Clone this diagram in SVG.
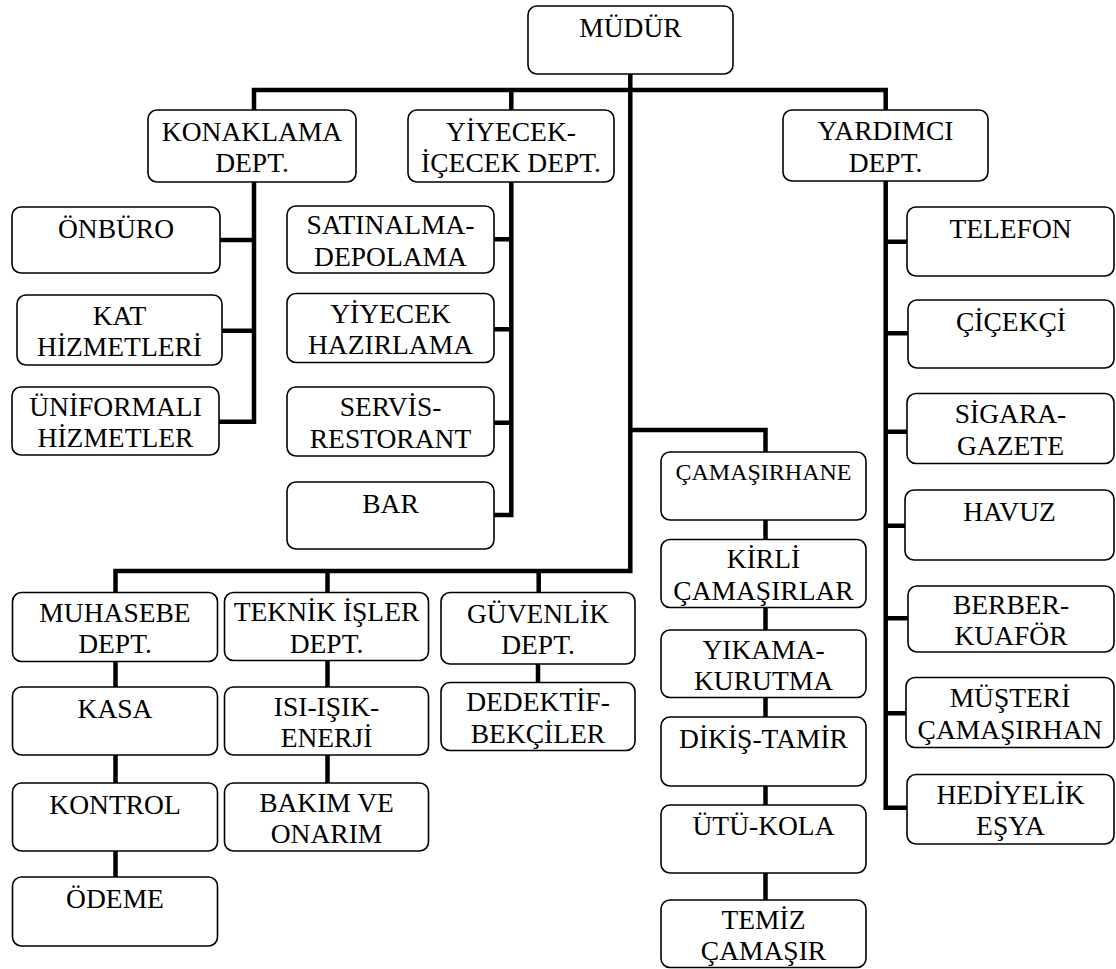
<svg xmlns="http://www.w3.org/2000/svg" width="1116" height="969" viewBox="0 0 1116 969">
<style>
.b{fill:#fff;stroke:#000;stroke-width:1.6}
.t{font-family:'Liberation Serif',serif;font-size:27.5px;fill:#000;text-anchor:middle}
.s{font-size:24px}
.c{fill:none;stroke:#000;stroke-width:4.5;stroke-linejoin:miter;stroke-linecap:butt}
</style>
<rect width="1116" height="969" fill="#fff"/>
<g id="connectors" class="c">
<path d="M254 110V90H885.7V110"/>
<path d="M511.3 90V110"/>
<path d="M630.3 74V571H115.5V592.5"/>
<path d="M254 182V421.7H219M220 240H254M222 330.7H254"/>
<path d="M511.3 182V515H494M494 239.3H511.3M494 329.3H511.3M494 422.7H511.3"/>
<path d="M630.3 430H765.5V452"/>
<path d="M885.7 181V807.7H907M885.7 241.7H907M885.7 333.3H908M885.7 431.7H907M885.7 525.7H905M885.7 618.3H908M885.7 713.3H906"/>
<path d="M327.5 571V592.5M538.7 571V592.5"/>
<path d="M115.5 661.5V687M115.5 755V783M115.5 851V877"/>
<path d="M327.5 660.5V687M327.5 755V783"/>
<path d="M538 664V682.5"/>
<path d="M765.5 520V539.5M765.5 607.5V630M765.5 697.5V717M765.5 786V805M765.5 873V900"/>
</g>
<g font-family="Liberation Serif" font-size="27.5" text-anchor="middle">
<g id="mudur"><rect class="b" x="528" y="6" width="205" height="68" rx="9"/><text class="t" x="630.5" y="37">MÜDÜR</text></g>
<g id="konaklama"><rect class="b" x="148" y="110" width="208" height="72" rx="9"/><text class="t" x="252" y="140.5">KONAKLAMA<tspan x="252" y="172">DEPT.</tspan></text></g>
<g id="yiyecek-icecek"><rect class="b" x="408" y="110" width="206" height="72" rx="9"/><text class="t" x="511" y="140.5">YİYECEK-<tspan x="511" y="172">İÇECEK DEPT.</tspan></text></g>
<g id="yardimci"><rect class="b" x="783" y="110" width="205" height="71" rx="9"/><text class="t" x="885.5" y="140">YARDIMCI<tspan x="885.5" y="171.5">DEPT.</tspan></text></g>
<g id="onburo"><rect class="b" x="12" y="207" width="208" height="66" rx="9"/><text class="t" x="116" y="237.5">ÖNBÜRO</text></g>
<g id="kat"><rect class="b" x="17" y="295" width="205" height="70" rx="9"/><text class="t" x="119.5" y="324.5">KAT<tspan x="119.5" y="356">HİZMETLERİ</tspan></text></g>
<g id="uniformali"><rect class="b" x="12" y="387" width="207" height="68" rx="9"/><text class="t" x="115.5" y="415.5">ÜNİFORMALI<tspan x="115.5" y="447">HİZMETLER</tspan></text></g>
<g id="satinalma"><rect class="b" x="287" y="206" width="207" height="67" rx="9"/><text class="t" x="390.5" y="234">SATINALMA-<tspan x="390.5" y="265.5">DEPOLAMA</tspan></text></g>
<g id="yiyecek-hazirlama"><rect class="b" x="287" y="293.5" width="207" height="69" rx="9"/><text class="t" x="390.5" y="322.5">YİYECEK<tspan x="390.5" y="354">HAZIRLAMA</tspan></text></g>
<g id="servis"><rect class="b" x="287" y="387" width="207" height="69" rx="9"/><text class="t" x="390.5" y="416">SERVİS-<tspan x="390.5" y="447.5">RESTORANT</tspan></text></g>
<g id="bar"><rect class="b" x="287" y="482" width="207" height="67" rx="9"/><text class="t" x="390.5" y="512.5">BAR</text></g>
<g id="telefon"><rect class="b" x="907" y="207" width="207" height="69" rx="9"/><text class="t" x="1010.5" y="238">TELEFON</text></g>
<g id="cicekci"><rect class="b" x="908" y="300" width="206" height="68" rx="9"/><text class="t" x="1011" y="331">ÇİÇEKÇİ</text></g>
<g id="sigara"><rect class="b" x="907" y="393.5" width="207" height="70" rx="9"/><text class="t" x="1010.5" y="423">SİGARA-<tspan x="1010.5" y="454.5">GAZETE</tspan></text></g>
<g id="havuz"><rect class="b" x="905" y="490" width="209" height="70" rx="9"/><text class="t" x="1009.5" y="521">HAVUZ</text></g>
<g id="berber"><rect class="b" x="908" y="586" width="206" height="66" rx="9"/><text class="t" x="1011" y="613.5">BERBER-<tspan x="1011" y="645">KUAFÖR</tspan></text></g>
<g id="musteri"><rect class="b" x="906" y="677.5" width="208" height="70" rx="9"/><text class="t" x="1010" y="707">MÜŞTERİ<tspan x="1010" y="738.5">ÇAMAŞIRHAN</tspan></text></g>
<g id="hediyelik"><rect class="b" x="907" y="774.5" width="207" height="69.5" rx="9"/><text class="t" x="1010.5" y="803.5">HEDİYELİK<tspan x="1010.5" y="835">EŞYA</tspan></text></g>
<g id="camasirhane"><rect class="b" x="661" y="452" width="205" height="68" rx="9"/><text class="t s" x="763.5" y="480">ÇAMAŞIRHANE</text></g>
<g id="kirli"><rect class="b" x="661" y="539.5" width="205" height="68" rx="9"/><text class="t" x="763.5" y="568">KİRLİ<tspan x="763.5" y="599.5">ÇAMAŞIRLAR</tspan></text></g>
<g id="yikama"><rect class="b" x="661" y="630" width="205" height="67.5" rx="9"/><text class="t" x="763.5" y="658.5">YIKAMA-<tspan x="763.5" y="690">KURUTMA</tspan></text></g>
<g id="dikis"><rect class="b" x="661" y="717" width="205" height="69" rx="9"/><text class="t" x="763.5" y="747.5">DİKİŞ-TAMİR</text></g>
<g id="utu"><rect class="b" x="661" y="805" width="205" height="68" rx="9"/><text class="t" x="763.5" y="835">ÜTÜ-KOLA</text></g>
<g id="temiz"><rect class="b" x="661" y="900" width="205" height="67.5" rx="9"/><text class="t" x="763.5" y="928.5">TEMİZ<tspan x="763.5" y="960">ÇAMAŞIR</tspan></text></g>
<g id="muhasebe"><rect class="b" x="12.5" y="592.5" width="205" height="69" rx="9"/><text class="t" x="115" y="621.5">MUHASEBE<tspan x="115" y="653">DEPT.</tspan></text></g>
<g id="teknik"><rect class="b" x="224.5" y="592.5" width="204" height="68" rx="9"/><text class="t" x="326.5" y="621">TEKNİK İŞLER<tspan x="326.5" y="652.5">DEPT.</tspan></text></g>
<g id="guvenlik"><rect class="b" x="441" y="592.5" width="194" height="71.5" rx="9"/><text class="t" x="538" y="622.5">GÜVENLİK<tspan x="538" y="654">DEPT.</tspan></text></g>
<g id="kasa"><rect class="b" x="12.5" y="687" width="205" height="68" rx="9"/><text class="t" x="115" y="718">KASA</text></g>
<g id="kontrol"><rect class="b" x="12.5" y="783" width="205" height="68" rx="9"/><text class="t" x="115" y="813.5">KONTROL</text></g>
<g id="odeme"><rect class="b" x="12.5" y="877" width="205" height="69" rx="9"/><text class="t" x="115" y="907.5">ÖDEME</text></g>
<g id="isi"><rect class="b" x="224.5" y="687" width="204" height="68" rx="9"/><text class="t" x="326.5" y="715.5">ISI-IŞIK-<tspan x="326.5" y="747">ENERJİ</tspan></text></g>
<g id="bakim"><rect class="b" x="224.5" y="783" width="204" height="68" rx="9"/><text class="t" x="326.5" y="811.5">BAKIM VE<tspan x="326.5" y="843">ONARIM</tspan></text></g>
<g id="dedektif"><rect class="b" x="441" y="682.5" width="194" height="68" rx="9"/><text class="t" x="538" y="711">DEDEKTİF-<tspan x="538" y="742.5">BEKÇİLER</tspan></text></g>
</g>
</svg>
